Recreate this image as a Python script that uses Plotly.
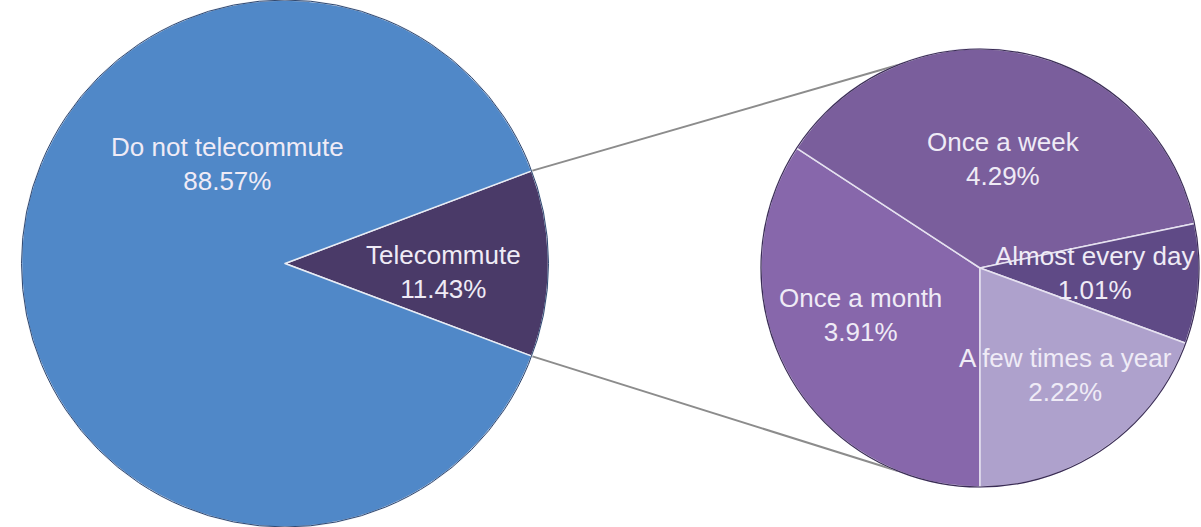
import math
import plotly.graph_objects as go

# ---- data ----
main_labels = ["Telecommute", "Do not telecommute"]
main_values = [11.43, 88.57]
main_colors = ["#4A3A68", "#5088C8"]

sub_labels = ["Once a month", "Once a week", "Almost every day", "A few times a year"]
sub_values = [3.91, 4.29, 1.01, 2.22]
sub_colors = ["#8767AB", "#7A5E9C", "#5F4A86", "#AEA1CC"]

W, H = 1201, 527

# pie geometry (pixels)
L_x0, L_x1 = 20, 550
R_x0, R_x1 = 761, 1199
R_y0, R_y1 = 40, 478  # from bottom

fig = go.Figure()

tele_share = main_values[0] / sum(main_values)
fig.add_trace(go.Pie(
    labels=main_labels, values=main_values, sort=False,
    direction="clockwise", rotation=90 - tele_share * 180,
    marker=dict(colors=main_colors, line=dict(color="#E8ECF4", width=1.5)),
    textinfo="none", hoverinfo="skip", showlegend=False,
    domain=dict(x=[L_x0 / W, L_x1 / W], y=[0, 1]),
))
fig.add_trace(go.Pie(
    labels=sub_labels, values=sub_values, sort=False,
    direction="clockwise", rotation=180,
    marker=dict(colors=sub_colors, line=dict(color="#E6E2F0", width=1.5)),
    textinfo="none", hoverinfo="skip", showlegend=False,
    domain=dict(x=[R_x0 / W, R_x1 / W], y=[R_y0 / H, R_y1 / H]),
))

# derived geometry
lr = min(L_x1 - L_x0, H) / 2
lcx, lcy = (L_x0 + L_x1) / 2, H / 2
rr = min(R_x1 - R_x0, R_y1 - R_y0) / 2
rcx, rcy = (R_x0 + R_x1) / 2, (R_y0 + R_y1) / 2

half = math.radians(tele_share * 180)
conn_angle = math.radians(112)
shapes = []
for s in (1, -1):
    x0 = lcx + lr * math.cos(half)
    y0 = lcy + s * lr * math.sin(half)
    x1 = rcx + rr * math.cos(conn_angle)
    y1 = rcy + s * rr * math.sin(conn_angle)
    shapes.append(dict(type="line", xref="paper", yref="paper",
                       x0=x0 / W, y0=y0 / H, x1=x1 / W, y1=y1 / H,
                       line=dict(color="#8C8C8C", width=2), layer="below"))

shapes.append(dict(type="circle", xref="paper", yref="paper",
                   x0=(lcx - lr) / W, x1=(lcx + lr) / W,
                   y0=(lcy - lr) / H, y1=(lcy + lr) / H,
                   line=dict(color="#2E4770", width=1)))
shapes.append(dict(type="circle", xref="paper", yref="paper",
                   x0=(rcx - rr) / W, x1=(rcx + rr) / W,
                   y0=(rcy - rr) / H, y1=(rcy + rr) / H,
                   line=dict(color="#3A2C55", width=1.2)))

# label placement: (center x, center y of the two-line block) in pixels from top
label_pos = {
    "Do not telecommute": (227, 163.5),
    "Telecommute": (443, 272),
    "Once a month": (860, 315),
    "Once a week": (1003, 159),
    "Almost every day": (1094, 272.5),
    "A few times a year": (1065, 375),
}
font = dict(family="Liberation Sans, Arial, sans-serif", size=26, color="#EFEBF6")
all_labels = main_labels + sub_labels
all_values = main_values + sub_values
annotations = []
for lab, val in zip(all_labels, all_values):
    px, py = label_pos[lab]
    annotations.append(dict(
        x=px / W, y=1 - py / H, xref="paper", yref="paper",
        text=f"{lab}<br>{val:.2f}%", showarrow=False,
        xanchor="center", yanchor="middle", align="center", font=font,
    ))

fig.update_layout(
    width=W, height=H, margin=dict(l=0, r=0, t=0, b=0),
    paper_bgcolor="white", plot_bgcolor="white",
    shapes=shapes, annotations=annotations,
)

fig.write_html("out.html")
